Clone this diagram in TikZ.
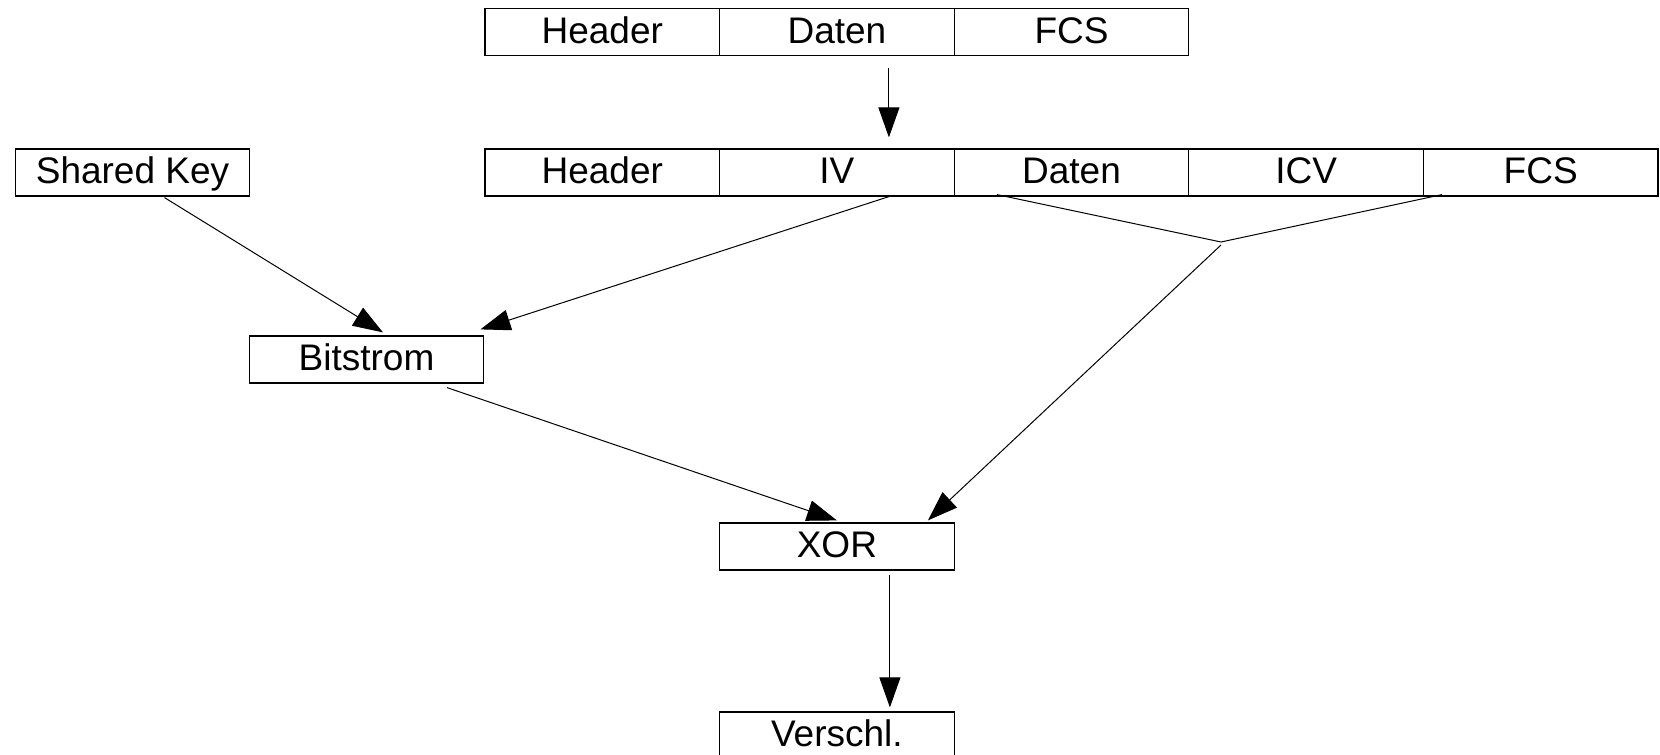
\documentclass[tikz,border=0pt]{standalone}
\usepackage{fontspec}
\setmainfont{Liberation Sans}
\usetikzlibrary{arrows.meta,calc}
\begin{document}
\begin{tikzpicture}[x=1pt,y=-1pt,
  cell/.style={draw, line width=1.2pt, minimum width=234.6pt, minimum height=47pt, inner sep=0pt,
    font=\fontsize{37}{42}\selectfont, text height=25pt, text depth=3pt},
  conn/.style={line width=1pt},
  arr/.style={conn, -{Triangle[length=30pt,width=21pt]}}]
\useasboundingbox (0,0) rectangle (1660,755);
% top frame
\node[cell] (h1) at (602.3,32) {Header};
\node[cell] (d1) at (836.9,32) {Daten};
\node[cell] (f1) at (1071.5,32) {FCS};
% second frame
\node[cell] (h2) at (602.3,172.5) {Header};
\node[cell] (iv) at (836.9,172.5) {IV};
\node[cell] (d2) at (1071.5,172.5) {Daten};
\node[cell] (icv) at (1306.1,172.5) {ICV};
\node[cell] (f2) at (1540.7,172.5) {FCS};
% others
\node[cell] (key) at (132.5,172.5) {Shared Key};
\node[cell] (bit) at (366.5,359.5) {Bitstrom};
\node[cell] (xor) at (836.9,546.5) {XOR};
\node[cell] (ver) at (836.9,735.5) {Verschl.};
\coordinate (j) at (1221,242);
% connectors
\draw[arr] ([xshift=52pt,yshift=-12pt]d1.south) -- ([xshift=52pt,yshift=11pt]iv.north);
\draw[arr] ([xshift=52pt]iv.south) -- ([xshift=-4pt,yshift=6pt]bit.north east);
\draw[arr] ([xshift=32pt,yshift=-1pt]key.south) -- ([xshift=16.5pt,yshift=3pt]bit.north);
\draw[arr] ([xshift=80.5pt,yshift=-4pt]bit.south) -- ([yshift=2pt]xor.north);
\draw[conn] ([xshift=-74.5pt,yshift=2pt]d2.south) -- (j) -- ([xshift=-98.7pt,yshift=2pt]f2.south);
\draw[arr] ([yshift=-3pt]j) -- ([xshift=91pt,yshift=2pt]xor.north);
\draw[arr] ([xshift=53pt,yshift=-4pt]xor.south) -- ([xshift=53pt,yshift=4pt]ver.north);
\end{tikzpicture}
\end{document}
